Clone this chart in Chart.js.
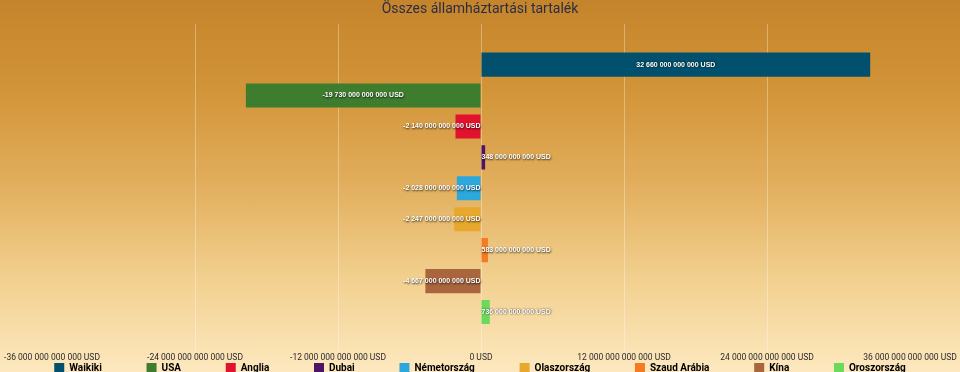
<!DOCTYPE html>
<html>
<head>
<meta charset="utf-8">
<script src="https://cdn.jsdelivr.net/npm/chart.js@4/dist/chart.umd.min.js"></script>
<style>
  html, body { margin: 0; padding: 0; overflow: hidden; }
  body {
    width: 960px; height: 372px;
    background: linear-gradient(to bottom, #c4842b 0%, #d39539 25%, #e2af5e 50%, #f2d08f 75%, #fde8bf 100%);
  }
  #wrap { position: relative; width: 960px; height: 375px; }
  canvas { display: block; }
</style>
</head>
<body>
<div id="wrap"><canvas id="myChart" width="960" height="375"></canvas></div>
<script>
// orszagok es tartalekok (milliard USD)
const countries = ['Waikiki', 'USA', 'Anglia', 'Dubai', 'Németország', 'Olaszország', 'Szaud Arábia', 'Kína', 'Oroszország'];
const reserves = [32660, -19730, -2140, 348, -2028, -2247, 583, -4667, 736]; // milliard
const colors = ['#01506d', '#3f7d2e', '#e2112d', '#4b1466', '#2ca8dc', '#e8a82e', '#f57b22', '#a9653c', '#6bd95b'];
const axisMin = -36000, axisMax = 36000, axisStep = 12000;

function fmt(v) {
    // 1 milliard = 1 000 000 000
    let s = Math.abs(Math.round(v)).toString() + '000000000';
    s = s.replace(/^0+(?=\d)/, '');
    s = s.replace(/\B(?=(\d{3})+(?!\d))/g, ' ');
    return (v < 0 ? '-' : '') + s + ' USD';
}

const datasets = countries.map((c, i) => ({
    label: c,
    data: [reserves[i]],
    backgroundColor: colors[i],
    borderWidth: 0,
    categoryPercentage: 0.846,
    barPercentage: 0.78
}));

// ertekek kiirasa a savokra
const barLabels = {
    id: 'barLabels',
    afterDatasetsDraw(chart) {
        const ctx = chart.ctx;
        ctx.save();
        ctx.font = 'bold 7px "Liberation Sans", Arial, sans-serif';
        ctx.textBaseline = 'middle';
        ctx.fillStyle = '#ffffff';
        ctx.shadowColor = 'rgba(0,0,0,0.85)';
        ctx.shadowBlur = 2;
        ctx.shadowOffsetX = 0.5;
        ctx.shadowOffsetY = 0.5;
        chart.data.datasets.forEach((ds, i) => {
            const bar = chart.getDatasetMeta(i).data[0];
            const v = ds.data[0];
            const txt = fmt(v);
            const tw = ctx.measureText(txt).width;
            const w = Math.abs(bar.x - bar.base);
            if (tw < w - 4) {
                ctx.textAlign = 'center';
                ctx.fillText(txt, (bar.x + bar.base) / 2, bar.y);
            } else if (v < 0) {
                ctx.textAlign = 'right';
                ctx.fillText(txt, bar.base, bar.y);
            } else {
                ctx.textAlign = 'left';
                ctx.fillText(txt, bar.base, bar.y);
            }
        });
        ctx.restore();
    }
};

const ctx = document.getElementById('myChart').getContext('2d');
let chart = new Chart(ctx, {
    type: 'bar',
    data: {
        labels: [''],
        datasets: datasets
    },
    options: {
        indexAxis: 'y',
        responsive: false,
        animation: false,
        layout: { padding: 0 },
        scales: {
            x: {
                min: axisMin,
                max: axisMax,
                border: { display: false },
                grid: {
                    drawTicks: false,
                    color: (c) => (c.tick && (c.tick.value === axisMin || c.tick.value === axisMax)) ? 'rgba(0,0,0,0)' : 'rgba(255,255,255,0.32)'
                },
                ticks: {
                    stepSize: axisStep,
                    maxRotation: 0,
                    padding: 0,
                    color: '#2a2a2a',
                    font: { family: 'Roboto, sans-serif', size: 8.5 },
                    callback: (v) => fmt(v)
                },
                afterFit: (s) => { s.paddingLeft = 52; s.paddingRight = 50; }
            },
            y: { display: false }
        },
        plugins: {
            title: {
                display: true,
                text: 'Összes államháztartási tartalék',
                color: '#2c2d45',
                font: { family: 'Roboto, sans-serif', size: 14, weight: 'normal' },
                padding: { top: 1, bottom: 6 }
            },
            legend: {
                position: 'bottom',
                maxHeight: 12,
                labels: {
                    boxWidth: 10,
                    boxHeight: 10,
                    padding: 0,
                    color: '#2a2a2a',
                    font: { family: 'Roboto, sans-serif', size: 10, weight: 'bold' },
                    generateLabels: (ch) => ch.data.datasets.map((ds, i) => ({
                        text: ds.label + (i < ch.data.datasets.length - 1 ? '                  ' : ''),
                        fillStyle: ds.backgroundColor,
                        strokeStyle: ds.backgroundColor,
                        lineWidth: 0,
                        hidden: false,
                        datasetIndex: i
                    }))
                }
            },
            tooltip: { enabled: false }
        }
    },
    plugins: [barLabels]
});
</script>
</body>
</html>
